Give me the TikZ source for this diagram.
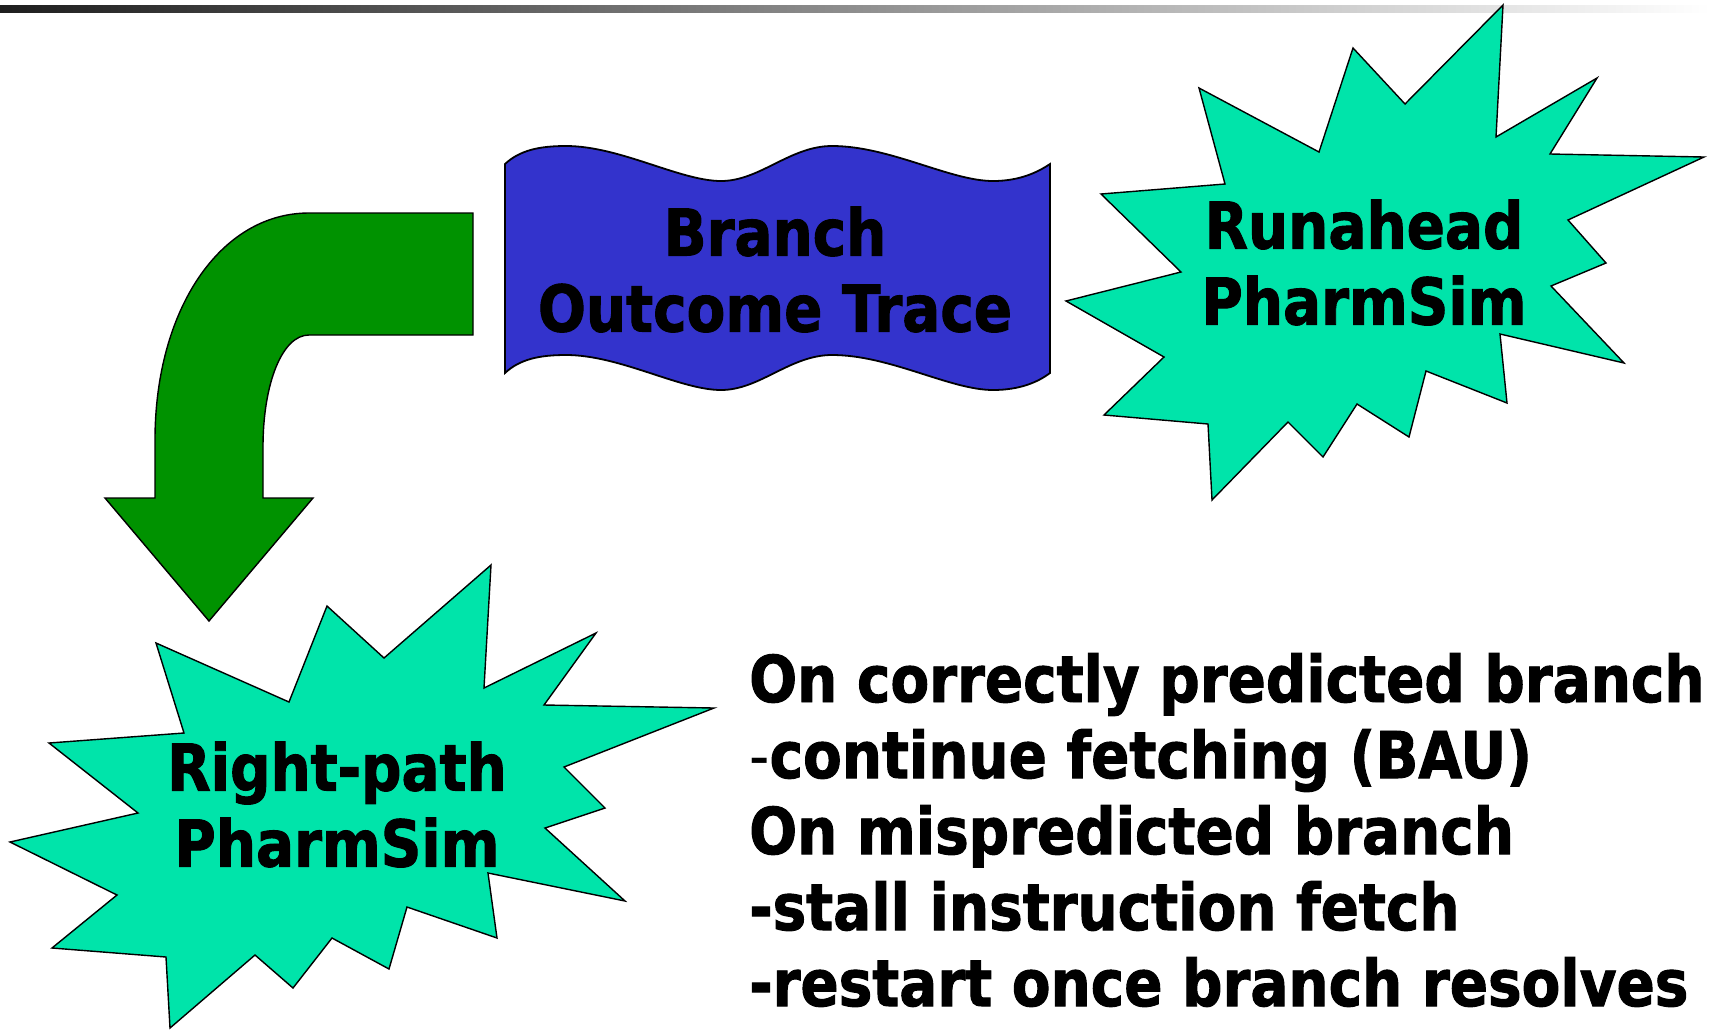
\documentclass[tikz,border=0pt]{standalone}
\usepackage{fontspec}
\setmainfont{DejaVu Sans}[FakeStretch=0.875, BoldFeatures={FakeBold=1.5}]
\definecolor{burst}{RGB}{0,228,170}
\definecolor{wave}{RGB}{51,51,204}
\definecolor{arrowgreen}{RGB}{0,146,0}
\definecolor{bardark}{RGB}{30,30,30}
\tikzset{
  burstshape/.style={fill=burst,draw=black,line width=1.4pt,line join=miter},
  waveshape/.style={fill=wave,draw=black,line width=1.8pt},
  arrowshape/.style={fill=arrowgreen,draw=black,line width=1.4pt},
  lbl/.style={inner sep=0pt,align=center,font=\fontsize{64.5}{76}\selectfont\bfseries},
  bodyline/.style={inner sep=0pt,anchor=base west,font=\fontsize{64.5}{76}\selectfont\bfseries}
}
\begin{document}
\begin{tikzpicture}[x=1pt,y=-1pt]
\useasboundingbox (0,0) rectangle (1723,1029);
% top gradient bar
\shade[left color=bardark,right color=white] (0,5) rectangle (1710,12);

% bent arrow
\draw[arrowshape] (473,213) -- (473,335) -- (309,335)
  .. controls (282,335) and (263,384) .. (263,447)
  -- (263,498) -- (313,498) -- (209,621) -- (105,498) -- (155,498) -- (155,440)
  .. controls (155,310) and (220,213) .. (309,213) -- cycle;

% wave banner
\draw[waveshape] (505,164)
  .. controls (520,150) and (540,146) .. (566,146)
  .. controls (620,146) and (680,181) .. (721,181)
  .. controls (760,181) and (790,146) .. (832,146)
  .. controls (890,146) and (950,181) .. (993,181)
  .. controls (1020,181) and (1038,172) .. (1050,164)
  -- (1050,373)
  .. controls (1038,382) and (1020,390) .. (993,390)
  .. controls (950,390) and (890,355) .. (832,355)
  .. controls (790,355) and (760,390) .. (721,390)
  .. controls (680,390) and (620,355) .. (566,355)
  .. controls (540,355) and (520,359) .. (505,373) -- cycle;

% Runahead starburst
\draw[burstshape] (1503,5) -- (1496,137) -- (1597,78) -- (1550,154) -- (1704,157)
  -- (1568,220) -- (1606,263) -- (1551,286) -- (1624,363) -- (1500,334)
  -- (1507,403) -- (1426,371) -- (1409,437) -- (1357,404) -- (1323,457)
  -- (1288,422) -- (1212,500) -- (1208,424) -- (1104,415) -- (1164,357)
  -- (1066,301) -- (1181,272) -- (1101,194) -- (1225,184) -- (1199,88)
  -- (1319,152) -- (1353,48) -- (1405,104) -- cycle;

% Right-path starburst
\draw[burstshape] (491,565) -- (484,688) -- (596,633) -- (544,705) -- (714,708)
  -- (564,767) -- (605,808) -- (545,828) -- (625,901) -- (488,873)
  -- (497,938) -- (407,907) -- (389,969) -- (332,938) -- (293,988)
  -- (255,955) -- (170,1028) -- (166,957) -- (52,948) -- (117,895)
  -- (10,842) -- (138,813) -- (49,743) -- (184,733) -- (156,643)
  -- (289,702) -- (327,606) -- (384,658) -- cycle;

% labels
\node[lbl] (trace) at (775,269.5) {Branch\\Outcome Trace};
\node[lbl] (runahead) at (1364,262.5) {Runahead\\PharmSim};
\node[lbl] (rightpath) at (337,804.5) {Right-path\\PharmSim};

% body text
\node[bodyline] (l1) at (749,702) {On correctly predicted branch};
\node[bodyline] (l2) at (749,778) {{\mdseries -}continue fetching (BAU)};
\node[bodyline] (l3) at (749,854) {On mispredicted branch};
\node[bodyline] (l4) at (749,930) {-stall instruction fetch};
\node[bodyline] (l5) at (749,1006) {-restart once branch resolves};
\end{tikzpicture}
\end{document}
